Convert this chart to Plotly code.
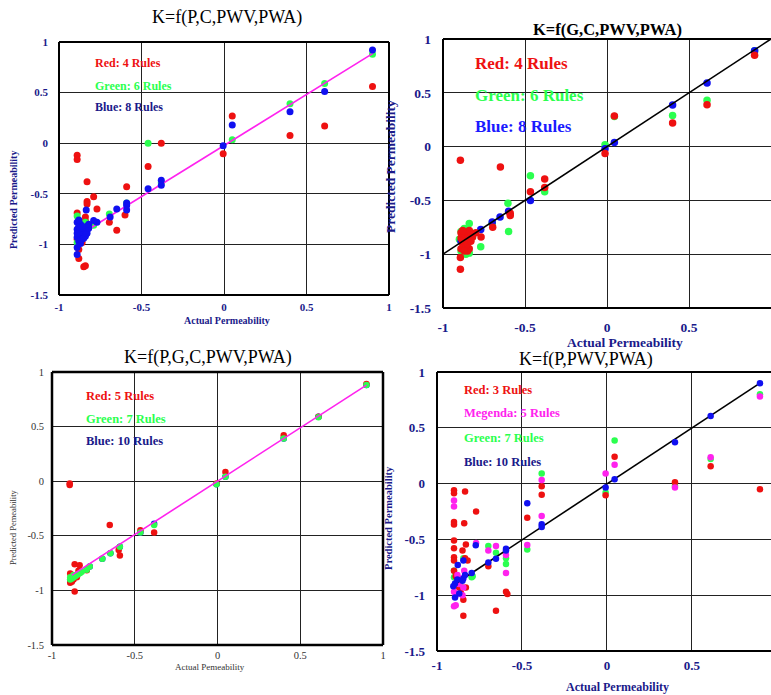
import plotly.graph_objects as go

W, H = 771, 695

# ---------------- data ----------------
# Panel 1: K=f(P,C,PWV,PWA)
p1_red_x = [0.90, 0.61, 0.40, 0.05, -0.005, -0.38, -0.46, -0.59, -0.60, -0.65, -0.695, -0.77, -0.79, -0.83, -0.83, -0.83,
            -0.89, -0.89, -0.89, -0.84, -0.84, -0.86, -0.88, -0.85, -0.84, -0.87, -0.86, -0.89, -0.85, -0.88]
p1_red_y = [0.56, 0.17, 0.075, 0.27, -0.105, 0.0, -0.23, -0.43, -0.71, -0.86, -0.78, -0.65, -0.53, -0.38, -0.575, -0.60,
            -0.12, -0.16, -0.69, -0.73, -0.77, -0.98, -1.14, -1.22, -1.21, -0.80, -0.86, -0.95, -0.90, -1.05]
p1_green_x = [0.90, 0.61, 0.40, 0.05, -0.46, -0.38, -0.59, -0.695, -0.79, -0.89, -0.89, -0.84, -0.86]
p1_green_y = [0.88, 0.59, 0.39, 0.035, 0.0, -0.39, -0.59, -0.70, -0.81, -0.72, -0.98, -0.78, -0.93]
p1_blue_x = [0.90, 0.61, 0.40, 0.05, -0.005, -0.38, -0.38, -0.46, -0.59, -0.59, -0.59, -0.65, -0.69, -0.77, -0.79, -0.835,
             -0.89, -0.89, -0.89, -0.89, -0.88, -0.87, -0.86, -0.85, -0.84, -0.83, -0.83, -0.86, -0.85, -0.84, -0.88,
             -0.87, -0.89, -0.86, -0.88, -0.87, -0.85, -0.84, -0.89, -0.86, -0.83, -0.88, -0.82, -0.82, -0.87]
p1_blue_y = [0.92, 0.51, 0.31, 0.18, -0.025, -0.365, -0.415, -0.45, -0.59, -0.615, -0.66, -0.65, -0.73, -0.78, -0.765, -0.66,
             -0.78, -0.85, -0.93, -1.03, -0.88, -0.92, -0.87, -0.85, -0.83, -0.82, -0.86, -0.90, -0.90, -0.88, -0.82,
             -0.84, -1.10, -0.95, -0.97, -0.80, -0.94, -0.92, -0.89, -0.82, -0.89, -0.76, -0.84, -0.80, -0.99]
p1_line_x = [-0.84, 0.905]
p1_line_y = [-0.87, 0.89]

# Panel 2: K=f(G,C,PWV,PWA)
p2_green_x = [0.90, 0.61, 0.40, 0.045, -0.012, -0.467, -0.38, -0.604, -0.60, -0.70, -0.77, -0.84, -0.86, -0.89, -0.88,
              -0.87, -0.85, -0.83, -0.89, -0.86, -0.82, -0.90, -0.84]
p2_green_y = [0.89, 0.43, 0.29, 0.28, 0.018, -0.27, -0.42, -0.526, -0.79, -0.715, -0.93, -0.715, -1.0, -0.79, -0.82,
              -0.76, -0.78, -0.80, -0.97, -0.92, -0.84, -0.86, -0.99]
p2_blue_x = [0.90, 0.61, 0.40, 0.045, -0.012, -0.467, -0.60, -0.652, -0.70, -0.77, -0.89, -0.88, -0.86, -0.85, -0.84]
p2_blue_y = [0.89, 0.59, 0.386, 0.037, -0.02, -0.50, -0.60, -0.655, -0.70, -0.77, -0.88, -0.87, -0.85, -0.84, -0.83]
p2_red_x = [0.90, 0.61, 0.40, 0.045, -0.012, -0.38, -0.38, -0.467, -0.59, -0.59, -0.65, -0.894, -0.697, -0.768, -0.894,
            -0.894, -0.89, -0.88, -0.87, -0.86, -0.85, -0.84, -0.83, -0.89, -0.87, -0.86, -0.84, -0.85, -0.88, -0.80,
            -0.82, -0.86, -0.84, -0.89, -0.87, -0.85, -0.88, -0.83]
p2_red_y = [0.85, 0.39, 0.22, 0.285, -0.064, -0.30, -0.38, -0.42, -0.62, -0.64, -0.19, -0.126, -0.75, -0.84, -1.03,
            -1.14, -0.85, -0.90, -0.82, -0.80, -0.85, -0.78, -0.82, -0.95, -0.93, -0.88, -0.95, -0.97, -0.88, -0.80,
            -0.84, -0.92, -0.86, -0.80, -0.97, -0.90, -0.78, -0.88]
p2_line_x = [-1.0, 1.0]
p2_line_y = [-1.0, 1.0]

# Panel 3: K=f(P,G,C,PWV,PWA)
p3_blue_x = [0.90, 0.61, 0.40, 0.048, -0.006, -0.383, -0.466, -0.59, -0.647, -0.696, -0.772, -0.79, -0.89, -0.87, -0.85]
p3_blue_y = [0.88, 0.59, 0.39, 0.04, -0.027, -0.39, -0.47, -0.60, -0.66, -0.71, -0.78, -0.81, -0.90, -0.88, -0.86]
p3_red_x = [0.90, 0.61, 0.40, 0.048, -0.006, -0.383, -0.466, -0.59, -0.597, -0.651, -0.893, -0.893, -0.863, -0.833,
            -0.863, -0.89, -0.89, -0.84, -0.79, -0.87, -0.85, -0.88]
p3_red_y = [0.89, 0.59, 0.42, 0.085, -0.02, -0.47, -0.45, -0.68, -0.63, -0.40, -0.02, -0.035, -0.76, -0.77,
            -1.01, -0.845, -0.93, -0.82, -0.815, -0.90, -0.88, -0.92]
p3_green_x = [0.90, 0.61, 0.40, 0.048, -0.006, -0.383, -0.466, -0.59, -0.647, -0.696, -0.772, -0.79, -0.89, -0.88,
              -0.87, -0.86, -0.85, -0.84, -0.83, -0.82, -0.89, -0.87]
p3_green_y = [0.88, 0.585, 0.39, 0.04, -0.027, -0.40, -0.47, -0.60, -0.66, -0.71, -0.78, -0.81, -0.90, -0.89,
              -0.88, -0.87, -0.86, -0.85, -0.84, -0.83, -0.88, -0.86]
p3_line_x = [-0.88, 0.90]
p3_line_y = [-0.86, 0.88]

# Panel 4: K=f(P,PWV,PWA)
p4_green_x = [0.90, 0.61, 0.40, 0.045, -0.008, -0.384, -0.469, -0.594, -0.594, -0.653, -0.698, -0.796, -0.845, -0.90,
              -0.90, -0.79, -0.88, -0.86]
p4_green_y = [0.80, 0.22, -0.02, 0.386, -0.08, 0.09, -0.59, -0.67, -0.72, -0.62, -0.56, -0.84, -0.67, -0.78,
              -0.84, -0.83, -0.88, -0.92]
p4_red_x = [0.90, 0.61, 0.40, 0.045, -0.008, -0.384, -0.384, -0.469, -0.586, -0.594, -0.653, -0.698, -0.77, -0.835,
            -0.84, -0.83, -0.835, -0.82, -0.845, -0.90, -0.90, -0.90, -0.90, -0.90, -0.90, -0.90, -0.90, -0.90,
            -0.85, -0.89, -0.88, -0.87, -0.86, -0.83, -0.845]
p4_red_y = [-0.05, 0.155, 0.012, 0.24, -0.105, -0.024, -0.10, -0.306, -0.99, -0.97, -1.14, -0.741, -0.25, -0.07,
            -0.355, -0.545, -0.67, -0.69, -1.185, -0.06, -0.087, -0.345, -0.366, -0.51, -0.58, -0.66, -0.69, -0.78,
            -0.60, -0.83, -0.87, -0.93, -0.98, -0.93, -1.04]
p4_mag_x = [0.90, 0.61, 0.40, 0.045, -0.008, -0.384, -0.384, -0.469, -0.594, -0.594, -0.653, -0.698, -0.77, -0.90,
            -0.90, -0.90, -0.89, -0.90, -0.89, -0.85, -0.845, -0.87, -0.86, -0.84, -0.88]
p4_mag_y = [0.78, 0.235, -0.036, 0.17, 0.09, 0.033, -0.29, -0.55, -0.64, -0.80, -0.56, -0.60, -0.533, -0.152,
            -0.205, -1.10, -1.09, -0.97, -1.00, -1.00, -0.93, -0.90, -0.85, -0.78, -0.82]
p4_blue_x = [0.90, 0.61, 0.40, 0.045, -0.008, -0.469, -0.384, -0.384, -0.594, -0.594, -0.653, -0.698, -0.772, -0.796,
             -0.845, -0.878, -0.835, -0.845, -0.85, -0.894, -0.904, -0.869, -0.894, -0.88]
p4_blue_y = [0.90, 0.605, 0.37, 0.04, -0.036, -0.176, -0.365, -0.39, -0.583, -0.60, -0.673, -0.708, -0.553, -0.80,
             -0.69, -0.73, -0.82, -0.85, -0.87, -0.895, -0.92, -0.985, -1.02, -0.86]
p4_line_x = [-0.894, 0.90]
p4_line_y = [-0.90, 0.90]

x_tickvals = [-1, -0.5, 0, 0.5, 1]
x_ticktext = ["-1", "-0.5", "0", "0.5", "1"]
y_tickvals = [-1.5, -1, -0.5, 0, 0.5, 1]
y_ticktext = ["-1.5", "-1", "-0.5", "0", "0.5", "1"]

# ---------------- styling ----------------
RED = "#ee1111"
GREEN = "#2bff4f"
BLUE = "#1010f0"
MAG = "#ff22ee"
NAVY = "#1a1a8a"
SERIF = "Liberation Serif"


def fx(px):
    return px / W


def fy(py):
    return 1 - py / H


fig = go.Figure()


def pts(x, y, color, size, ax):
    fig.add_trace(go.Scatter(x=x, y=y, mode="markers", xaxis="x" + ax, yaxis="y" + ax,
                             marker=dict(color=color, size=size, line=dict(width=0)),
                             showlegend=False, hoverinfo="skip"))


def line(x, y, color, ax, width=1.6):
    fig.add_trace(go.Scatter(x=x, y=y, mode="lines", xaxis="x" + ax, yaxis="y" + ax,
                             line=dict(color=color, width=width), showlegend=False, hoverinfo="skip"))


# panel 1
pts(p1_red_x, p1_red_y, RED, 7, "")
pts(p1_green_x, p1_green_y, GREEN, 7, "")
line(p1_line_x, p1_line_y, MAG, "")
pts(p1_blue_x, p1_blue_y, BLUE, 7, "")
# panel 2
pts(p2_green_x, p2_green_y, GREEN, 7.5, "2")
pts(p2_blue_x, p2_blue_y, BLUE, 7.5, "2")
pts(p2_red_x, p2_red_y, RED, 7.5, "2")
line(p2_line_x, p2_line_y, "black", "2")
# panel 3
pts(p3_blue_x, p3_blue_y, BLUE, 6.5, "3")
pts(p3_red_x, p3_red_y, RED, 6.5, "3")
pts(p3_green_x, p3_green_y, GREEN, 6.5, "3")
line(p3_line_x, p3_line_y, MAG, "3")
# panel 4
pts(p4_green_x, p4_green_y, GREEN, 6.5, "4")
pts(p4_red_x, p4_red_y, RED, 6.5, "4")
pts(p4_mag_x, p4_mag_y, MAG, 6.5, "4")
line(p4_line_x, p4_line_y, "black", "4")
pts(p4_blue_x, p4_blue_y, BLUE, 6.5, "4")


def xaxis(d0, d1, rng, anchor, fsize, fcolor, weight, standoff):
    return dict(domain=[fx(d0), fx(d1)], range=rng, anchor=anchor, tickvals=x_tickvals, ticktext=x_ticktext,
                showgrid=True, gridcolor="#222222", gridwidth=1, zeroline=True, zerolinecolor="#222222",
                zerolinewidth=1, showline=False, ticks="", automargin=False,
                ticklabelstandoff=standoff, fixedrange=True,
                tickfont=dict(family=SERIF, size=fsize, color=fcolor, weight=weight))


def yaxis(d0, d1, anchor, fsize, fcolor, weight, standoff):
    return dict(domain=[fy(d1), fy(d0)], range=[-1.5, 1], anchor=anchor, tickvals=y_tickvals, ticktext=y_ticktext,
                showgrid=True, gridcolor="#222222", gridwidth=1, zeroline=True, zerolinecolor="#222222",
                zerolinewidth=1, showline=False, ticks="", automargin=False,
                ticklabelstandoff=standoff, fixedrange=True,
                tickfont=dict(family=SERIF, size=fsize, color=fcolor, weight=weight))


fig.update_layout(
    xaxis=xaxis(59, 389, [-1, 1], "y", 11, NAVY, "bold", 4),
    yaxis=yaxis(42, 295, "x", 11, NAVY, "bold", 10),
    xaxis2=xaxis(443, 771, [-1, 1], "y2", 13.5, NAVY, "bold", 9),
    yaxis2=yaxis(39, 308, "x2", 13.5, NAVY, "bold", 11),
    xaxis3=xaxis(52, 383, [-1, 1], "y3", 10.5, "#333333", "normal", 2),
    yaxis3=yaxis(372, 645, "x3", 10.5, "#333333", "normal", 7),
    xaxis4=xaxis(437, 771, [-1, 0.965], "y4", 13, NAVY, "bold", 5),
    yaxis4=yaxis(372, 651, "x4", 13, NAVY, "bold", 11),
)

shapes = []
# white boxes behind in-plot legends
boxes = [(88, 52, 198, 118), (467, 48, 603, 138), (78, 383, 192, 450), (456, 375, 570, 473)]
for a, b, c, d in boxes:
    shapes.append(dict(type="rect", xref="paper", yref="paper", x0=fx(a), x1=fx(c), y0=fy(d), y1=fy(b),
                       fillcolor="white", line=dict(width=0), layer="between"))

# panel frames (left, bottom, top on all; right on panels 1 and 3)
frames = [("", 2, True), ("2", 2, False), ("3", 2.5, True), ("4", 2, False)]
for ax, lw, right in frames:
    xr, yr = "x" + ax + " domain", "y" + ax + " domain"
    segs = [(0, 0, 0, 1), (0, 0, 1, 0), (0, 1, 1, 1)]
    if right:
        segs.append((1, 0, 1, 1))
    for x0, y0, x1, y1 in segs:
        shapes.append(dict(type="line", xref=xr, yref=yr, x0=x0, y0=y0, x1=x1, y1=y1,
                           line=dict(color="black", width=lw), layer="above"))
fig.update_layout(shapes=shapes)


def ann(text, x, y, size, color, bold=False, angle=0, xanchor="center"):
    return dict(text=text, x=fx(x), y=fy(y), xref="paper", yref="paper", showarrow=False,
                xanchor=xanchor, yanchor="middle", textangle=angle,
                font=dict(family=SERIF, size=size, color=color, weight="bold" if bold else "normal"))


anns = [
    # titles
    ann("K=f(P,C,PWV,PWA)", 227, 17, 18, "black"),
    ann("K=f(G,C,PWV,PWA)", 607, 29, 16.5, "black", bold=True),
    ann("K=f(P,G,C,PWV,PWA)", 208, 357, 18, "black"),
    ann("K=f(P,PWV,PWA)", 586, 359, 18, "black"),
    # axis titles
    ann("Actual Permeability", 227, 320, 10, NAVY, bold=True),
    ann("Predicted Permeability", 13, 200, 10, NAVY, bold=True, angle=-90),
    ann("Actual Permeability", 625, 342, 13.5, NAVY, bold=True),
    ann("Predicted Permeability", 390, 167, 13.5, NAVY, bold=True, angle=-90),
    ann("Actual Pemeability", 210, 667, 9, "#333333"),
    ann("Predicted Pemeability", 13, 527, 8.5, "#333333", angle=-90),
    ann("Actual Permeability", 617, 687, 12, NAVY, bold=True),
    ann("Predicted Permeability", 388, 518, 10.5, NAVY, bold=True, angle=-90),
    # legends
    ann("Red: 4 Rules", 93, 63, 12, RED, bold=True, xanchor="left"),
    ann("Green: 6 Rules", 93, 86, 12, GREEN, bold=True, xanchor="left"),
    ann("Blue: 8 Rules", 93, 107, 12, NAVY, bold=True, xanchor="left"),
    ann("Red: 4 Rules", 473, 63, 17, RED, bold=True, xanchor="left"),
    ann("Green: 6 Rules", 473, 95, 17, GREEN, bold=True, xanchor="left"),
    ann("Blue: 8 Rules", 473, 126, 17, "#1a1aff", bold=True, xanchor="left"),
    ann("Red: 5 Rules", 84, 396, 12.5, RED, bold=True, xanchor="left"),
    ann("Green: 7 Rules", 84, 419, 12.5, GREEN, bold=True, xanchor="left"),
    ann("Blue: 10 Rules", 84, 441, 12.5, NAVY, bold=True, xanchor="left"),
    ann("Red: 3 Rules", 462, 390, 12.5, RED, bold=True, xanchor="left"),
    ann("Megenda: 5 Rules", 462, 413, 12.5, MAG, bold=True, xanchor="left"),
    ann("Green: 7 Rules", 462, 438, 12.5, GREEN, bold=True, xanchor="left"),
    ann("Blue: 10 Rules", 462, 462, 12.5, NAVY, bold=True, xanchor="left"),
]

fig.update_layout(
    annotations=anns,
    width=W, height=H, autosize=False,
    margin=dict(l=0, r=0, t=0, b=0, pad=0, autoexpand=False),
    paper_bgcolor="white", plot_bgcolor="white",
    showlegend=False,
)

fig.write_html("out.html", config={"displayModeBar": False},
               post_script="document.body.style.margin='0';document.body.style.overflow='hidden';")
